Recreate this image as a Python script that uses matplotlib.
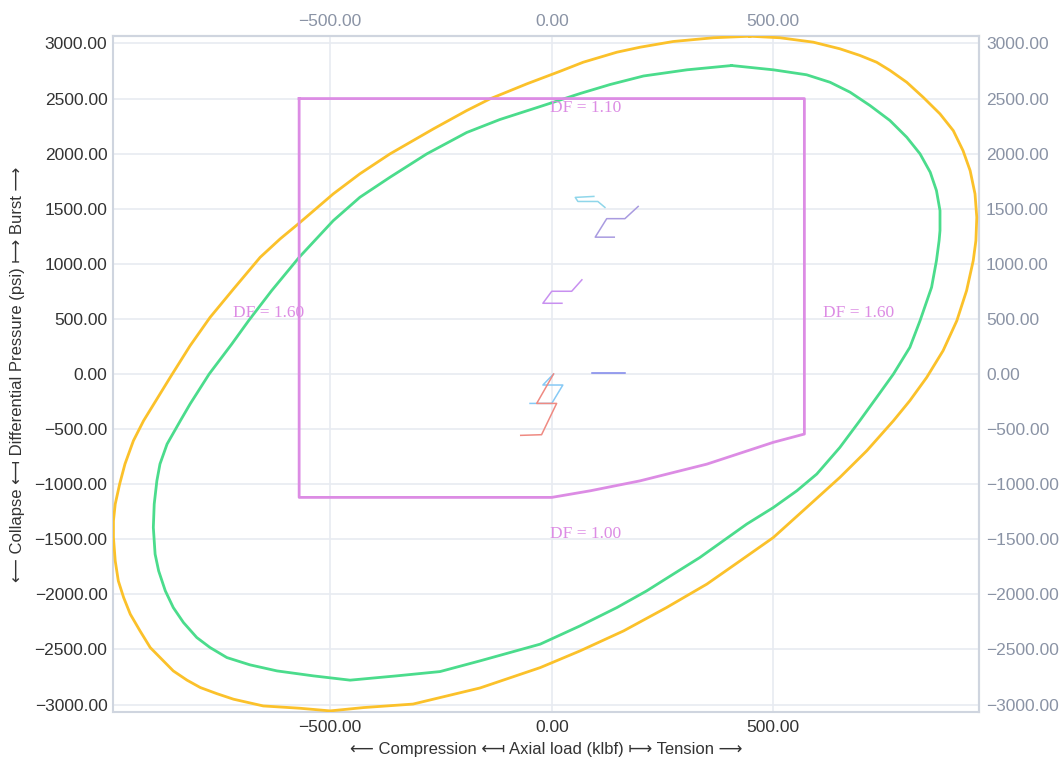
import matplotlib
matplotlib.use("Agg")
import matplotlib.pyplot as plt
from matplotlib.ticker import FuncFormatter, FixedLocator

# ---- data ----
outer_x = [447, 515, 590, 650, 695, 733, 763, 801, 838, 876, 906, 928, 944, 955, 959, 957, 951, 936,
           914, 883, 846, 808, 771, 711, 650, 575, 500, 425, 350, 259, 162, 64, -26, -162, -313,
           -425, -500, -568, -651, -718, -756, -793, -823, -854, -880, -906, -929, -951, -966, -978,
           -985, -989, -989, -985, -975, -963, -944, -921, -861, -816, -771, -718, -658, -613,
           -568, -493, -433, -365, -267, -192, -139, -56, 19, 71, 147, 199, 274, 365, 447]
outer_y = [3066, 3052, 3012, 2952, 2892, 2830, 2756, 2648, 2512, 2361, 2209, 2027, 1846, 1635, 1422,
           1211, 1029, 757, 484, 212, -31, -242, -424, -696, -939, -1212, -1484, -1696, -1907, -2120,
           -2332, -2513, -2665, -2850, -2996, -3028, -3058, -3034, -3013, -2952, -2901, -2846, -2779,
           -2695, -2589, -2483, -2332, -2180, -2029, -1878, -1696, -1484, -1332, -1181, -999, -817,
           -606, -424, -31, 257, 514, 772, 1059, 1226, 1376, 1635, 1817, 1998, 2225, 2391, 2498,
           2634, 2748, 2830, 2921, 2966, 3018, 3052, 3066]

inner_x = [406, 500, 575, 628, 673, 718, 763, 801, 831, 854, 868, 876, 876, 874, 868, 857, 831, 808,
           771, 733, 695, 650, 598, 553, 500, 440, 387, 334, 274, 214, 147, 64, -26, -162, -252, -350,
           -455, -538, -620, -681, -733, -771, -801, -831, -854, -872, -887, -895, -899, -897, -891,
           -884, -868, -838, -816, -773, -722, -684, -632, -570, -493, -433, -365, -282, -192, -117,
           -26, 64, 132, 207, 305, 406]
inner_y = [2800, 2761, 2716, 2648, 2558, 2437, 2301, 2149, 1998, 1831, 1665, 1483, 1302, 1211, 1029,
           787, 484, 242, 0, -213, -424, -667, -908, -1060, -1212, -1362, -1514, -1666, -1817, -1969,
           -2120, -2286, -2452, -2604, -2701, -2740, -2779, -2740, -2695, -2640, -2574, -2483, -2392,
           -2256, -2120, -1968, -1787, -1635, -1393, -1181, -969, -817, -636, -424, -272, 0, 272, 484,
           757, 1059, 1392, 1604, 1786, 1998, 2192, 2310, 2428, 2546, 2628, 2705, 2761, 2800]

box_x = [-570, 570, 570, 500, 350, 199, 87, 0, -570, -570]
box_y = [2500, 2500, -545, -620, -818, -970, -1060, -1120, -1120, 2500]

load_lines = {
    "cyan_top": ([95, 53, 59, 104, 120], [1612, 1603, 1566, 1566, 1512]),
    "lavender": ([195, 165, 124, 98, 141], [1521, 1410, 1410, 1242, 1242]),
    "violet": ([68, 45, 0, -20, 23], [855, 751, 751, 642, 642]),
    "blue": ([90, 165], [5, 5]),
    "cyan_low": ([4, -20, 25, 0, -49], [0, -100, -100, -267, -267]),
    "red": ([4, -34, 11, -23, -70], [0, -267, -267, -551, -557]),
}
load_colors = {
    "cyan_top": "#8fd6ea", "lavender": "#a99be0", "violet": "#c890f0",
    "blue": "#7c84ea", "cyan_low": "#86c9f5", "red": "#ef8a82",
}

df_labels = ["DF = 1.10", "DF = 1.60", "DF = 1.60", "DF = 1.00"]
df_pos = [(77, 2414), (-638, 557), (692, 557), (77, -1448)]

x_ticks = [-500, 0, 500]
y_ticks = [-3000, -2500, -2000, -1500, -1000, -500, 0, 500, 1000, 1500, 2000, 2500, 3000]

xlabel = "\u27f5 Compression \u27fb Axial load (klbf) \u27fc Tension \u27f6"
ylabel = "\u27f5 Collapse \u27fb Differential Pressure (psi) \u27fc Burst \u27f6"

# ---- style ----
plt.rcParams['font.family'] = ['Liberation Sans', 'DejaVu Sans']
dark = "#333333"
gray = "#8a93a5"
spine_c = "#cfd5df"
grid_c = "#e8ebf1"
box_c = "#dc8ce4"

fig = plt.figure(figsize=(10.62, 7.58), dpi=100)
ax = fig.add_axes([113/1062, 1-712/758, (979-113)/1062, (712-36)/758])

ax.plot(outer_x, outer_y, color="#fbc12a", lw=2.0, zorder=3)
ax.plot(inner_x, inner_y, color="#4bdc8c", lw=2.0, zorder=3)
ax.plot(box_x, box_y, color=box_c, lw=2.0, zorder=3)
for k, (xs, ys) in load_lines.items():
    ax.plot(xs, ys, color=load_colors[k], lw=1.1, zorder=4)

for lab, (tx, ty) in zip(df_labels, df_pos):
    ax.text(tx, ty, lab, ha="center", va="center", color=box_c, fontsize=12.5,
            family=["Liberation Serif", "DejaVu Serif"], zorder=5)

ax.set_xlim(-990, 964)
ax.set_ylim(-3068, 3068)

fmt = FuncFormatter(lambda v, p: ("%.2f" % v).replace("-", "\u2212"))
ax.xaxis.set_major_locator(FixedLocator(x_ticks))
ax.yaxis.set_major_locator(FixedLocator(y_ticks))
ax.xaxis.set_major_formatter(fmt)
ax.yaxis.set_major_formatter(fmt)
ax.grid(True, color=grid_c, lw=1.2, zorder=0)
ax.set_axisbelow(True)
ax.tick_params(axis="both", length=0, labelsize=12.5, labelcolor=dark)
ax.tick_params(axis="x", pad=6)
ax.tick_params(axis="y", pad=4)
for s in ax.spines.values():
    s.set_color(spine_c)
    s.set_linewidth(1.5)

secx = ax.secondary_xaxis("top")
secx.xaxis.set_major_locator(FixedLocator(x_ticks))
secx.xaxis.set_major_formatter(fmt)
secx.tick_params(length=0, labelsize=12.5, labelcolor=gray, pad=5)
secx.spines["top"].set_color(spine_c)
secx.spines["top"].set_linewidth(1.5)

secy = ax.secondary_yaxis("right")
secy.yaxis.set_major_locator(FixedLocator(y_ticks))
secy.yaxis.set_major_formatter(fmt)
secy.tick_params(length=0, labelsize=12.5, labelcolor=gray, pad=5)
secy.spines["right"].set_color(spine_c)
secy.spines["right"].set_linewidth(1.5)

ax.set_xlabel(xlabel, fontsize=12, color=dark, labelpad=5)
ax.set_ylabel(ylabel, fontsize=12, color=dark, labelpad=6.5)

fig.savefig("out.png", dpi=100, facecolor="white")
